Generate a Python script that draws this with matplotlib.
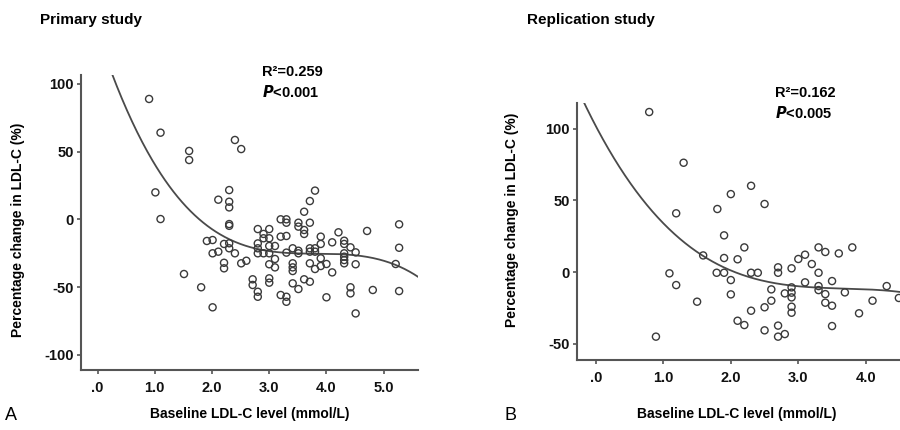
import numpy as np
import matplotlib
matplotlib.use("Agg")
import matplotlib.pyplot as plt

plt.rcParams['font.family'] = ['Liberation Sans', 'DejaVu Sans']

# ---------------- data: primary study ----------------
prim_x = [0.90, 1.10, 1.60, 1.60, 1.01, 1.10, 2.11, 2.40, 2.51,
          2.30, 2.30, 2.30, 2.30, 2.30,
          3.80, 3.71, 3.61, 3.71, 3.20, 3.30, 3.30, 3.51, 3.51, 3.61, 3.61,
          2.80, 3.00, 2.90, 2.90, 3.00, 3.20, 3.30, 2.80, 2.80, 2.80, 3.00, 3.10,
          2.90, 3.00, 3.30, 3.41, 3.51, 3.51, 3.71, 3.71, 3.80, 3.80,
          3.90, 3.90, 4.10, 4.21, 4.31, 4.31, 4.42, 4.51, 4.31, 4.31, 4.31, 4.31,
          4.71, 5.27, 5.27, 5.21, 5.27, 4.51, 4.00, 3.90, 3.80, 3.90, 3.71,
          4.10, 4.00, 4.42, 4.42, 4.81, 4.51, 3.41, 3.41, 3.41, 3.61, 3.71,
          3.51, 3.41, 3.20, 3.30, 3.30, 3.00, 3.10, 3.10, 3.00, 3.00, 2.71, 2.71,
          2.80, 2.80, 2.60, 2.51, 2.40, 2.30, 2.30, 2.21, 2.21, 2.21, 2.11, 2.01,
          1.91, 2.01, 1.81, 2.01, 1.51]
prim_y = [88.9, 64.0, 50.5, 43.8, 19.9, 0.2, 14.5, 58.6, 51.9,
          21.6, 13.0, 8.8, -3.5, -4.8,
          21.2, 13.5, 5.6, -2.5, 0.0, 0.0, -2.5, -2.5, -5.4, -7.9, -10.8,
          -7.2, -7.2, -10.8, -14.0, -14.0, -12.8, -12.3, -17.8, -21.4, -25.1, -19.7, -19.7,
          -25.1, -25.1, -24.6, -21.4, -23.2, -25.1, -21.4, -23.9, -21.4, -23.9,
          -12.8, -18.2, -17.0, -9.6, -15.8, -18.2, -20.7, -24.4, -25.1, -27.6, -30.1, -32.5,
          -8.6, -3.7, -21.0, -33.0, -53.0, -33.2, -33.0, -28.8, -36.7, -34.5, -32.5,
          -39.2, -57.6, -50.2, -54.7, -52.2, -69.5, -32.5, -35.5, -38.2, -44.3, -46.1,
          -51.5, -47.3, -55.9, -57.2, -60.9, -33.2, -35.5, -29.3, -43.6, -46.8, -44.3, -48.5,
          -53.5, -57.2, -30.6, -32.5, -25.1, -21.4, -17.7, -18.2, -32.1, -36.2, -23.9, -25.1,
          -16.0, -15.3, -50.2, -65.0, -40.4]
# cubic fit coefficients (highest power first)
prim_fit = [-2.902, 33.24, -127.27, 137.5]
prim_stats = ["R²=0.259", "$\\bfit{P}$<0.001"]

# ---------------- data: replication study ----------------
repl_x = [0.79, 1.30, 1.19, 1.59, 1.09, 1.19, 1.50, 0.89,
          2.30, 2.00, 1.80, 2.50, 1.90, 2.20, 1.90, 2.10, 1.79, 1.90, 2.00,
          2.30, 2.40, 2.70, 2.70, 2.90, 3.00, 3.10, 3.30, 3.40, 3.60, 3.80,
          3.20, 3.30, 3.10, 3.50, 3.30, 3.30, 3.40, 3.69, 4.31, 4.49, 4.10, 3.90,
          3.40, 3.50, 3.50, 2.90, 2.90, 2.90, 2.90, 2.90, 2.80, 2.60, 2.60, 2.50,
          2.30, 2.00, 2.10, 2.20, 2.50, 2.70, 2.70, 2.80]
repl_y = [111.7, 76.3, 41.0, 11.6, -0.9, -9.1, -20.7, -45.1,
          60.2, 54.4, 44.0, 47.5, 25.6, 17.2, 9.8, 8.9, -0.5, -0.5, -5.6,
          -0.5, -0.5, 3.3, -0.5, 2.6, 9.1, 12.1, 17.2, 14.0, 13.0, 17.2,
          5.6, -0.5, -7.2, -6.3, -9.8, -12.6, -15.4, -14.2, -9.8, -18.1, -20.0, -28.8,
          -21.4, -23.5, -37.7, -10.7, -14.4, -17.7, -24.2, -28.4, -14.9, -12.1, -20.0, -24.6,
          -27.0, -15.6, -34.0, -37.0, -40.7, -37.4, -45.1, -43.3]
repl_fit = [-2.165, 23.93, -89.54, 101.78]
repl_stats = ["R²=0.162", "$\\bfit{P}$<0.005"]

prim_xticks = [0, 1, 2, 3, 4, 5]
prim_xticklabels = [".0", "1.0", "2.0", "3.0", "4.0", "5.0"]
repl_xticks = [0, 1, 2, 3, 4]
repl_xticklabels = [".0", "1.0", "2.0", "3.0", "4.0"]
prim_yticks = [-100, -50, 0, 50, 100]
repl_yticks = [-50, 0, 50, 100]

W, H = 900, 430
fig = plt.figure(figsize=(9, 4.3), dpi=100)

def px_rect(l, r, t, b):
    return [l / W, (H - b) / H, (r - l) / W, (b - t) / H]

axA = fig.add_axes(px_rect(81, 418, 75, 370))
axB = fig.add_axes(px_rect(577, 940, 103, 360))

spine_c = '#555555'
mark_c = '#3a3a3a'
line_c = '#4a4a4a'

def style(ax, xlim, ylim, xticks, xticklabels, yticks):
    ax.set_xlim(*xlim)
    ax.set_ylim(*ylim)
    for s in ['top', 'right']:
        ax.spines[s].set_visible(False)
    for s in ['left', 'bottom']:
        ax.spines[s].set_color(spine_c)
        ax.spines[s].set_linewidth(1.5)
    ax.set_xticks(xticks)
    ax.set_xticklabels(xticklabels)
    ax.set_yticks(yticks)
    ax.set_yticklabels([str(v) for v in yticks])
    ax.tick_params(axis='both', direction='out', length=3.2, width=1.2,
                   color=spine_c, labelsize=10.5)
    ax.tick_params(axis='x', pad=5)
    ax.tick_params(axis='y', pad=2)
    for lab in ax.get_xticklabels() + ax.get_yticklabels():
        lab.set_fontweight('bold')
        lab.set_color('#111111')
    ax.set_facecolor('white')

# Panel A
style(axA, (-0.29, 5.6), (-111.3, 106.6), prim_xticks, prim_xticklabels, prim_yticks)
axA.scatter(prim_x, prim_y, s=26, facecolors='none', edgecolors=mark_c,
            linewidths=1.0, zorder=3)
xs = np.linspace(-0.3, 5.6, 400)
axA.plot(xs, np.polyval(prim_fit, xs), color=line_c, lw=1.3, zorder=2)

# Panel B
style(axB, (-0.28, 5.1), (-61.4, 118.0), repl_xticks, repl_xticklabels, repl_yticks)
axB.scatter(repl_x, repl_y, s=26, facecolors='none', edgecolors=mark_c,
            linewidths=1.0, zorder=3)
xs2 = np.linspace(-0.3, 5.1, 400)
axB.plot(xs2, np.polyval(repl_fit, xs2), color=line_c, lw=1.3, zorder=2)

def ftext(x, y, s, **kw):
    fig.text(x / W, 1 - y / H, s, **kw)

# titles
ftext(40, 20, "Primary study", fontsize=11, fontweight='bold', va='center', ha='left')
ftext(527, 20, "Replication study", fontsize=11, fontweight='bold', va='center', ha='left')

# stats text
ftext(262, 72, prim_stats[0], fontsize=10.5, fontweight='bold', va='center', ha='left')
ftext(262, 92, prim_stats[1], fontsize=10.5, fontweight='bold', va='center', ha='left')
ftext(775, 93, repl_stats[0], fontsize=10.5, fontweight='bold', va='center', ha='left')
ftext(775, 113, repl_stats[1], fontsize=10.5, fontweight='bold', va='center', ha='left')

# y labels
ftext(18, 230, "Percentage change in LDL-C (%)", fontsize=10, fontweight='bold',
      rotation=90, va='center', ha='center')
ftext(512, 220, "Percentage change in LDL-C (%)", fontsize=10, fontweight='bold',
      rotation=90, va='center', ha='center')

# x labels
ftext(250, 414, "Baseline LDL-C level (mmol/L)", fontsize=10, fontweight='bold',
      va='center', ha='center')
ftext(737, 414, "Baseline LDL-C level (mmol/L)", fontsize=10, fontweight='bold',
      va='center', ha='center')

# panel letters
ftext(5, 416, "A", fontsize=13, va='center', ha='left')
ftext(505, 416, "B", fontsize=13, va='center', ha='left')

fig.savefig("out.png", dpi=100, facecolor='white')
